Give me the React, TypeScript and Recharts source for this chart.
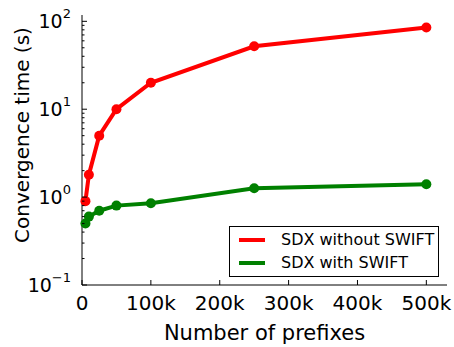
import React from 'react';
import { LineChart, Line, XAxis, YAxis } from 'recharts';

// Number of announced prefixes (x) and measured convergence times in seconds (y)
const prefixes = [5000, 10000, 25000, 50000, 100000, 250000, 500000];
const withoutSwift = [0.9, 1.8, 5.0, 10, 20, 52, 85];
const withSwift = [0.5, 0.6, 0.7, 0.8, 0.85, 1.26, 1.4];

const seriesNames = ['SDX without SWIFT', 'SDX with SWIFT'];
const seriesColors = ['#ff0000', '#008000'];

const xTicks = [0, 100000, 200000, 300000, 400000, 500000];
const yMajor = [0.1, 1, 10, 100];
const yMinor = [0.2, 0.3, 0.4, 0.5, 0.6, 0.7, 0.8, 0.9, 2, 3, 4, 5, 6, 7, 8, 9, 20, 30, 40, 50, 60, 70, 80, 90];
const yTicks = [...yMajor, ...yMinor].sort((a, b) => a - b);

const data = prefixes.map((p, i) => ({
  prefixes: p,
  without: withoutSwift[i],
  with: withSwift[i],
}));

const FONT = '"DejaVu Sans", sans-serif';
const isMajor = (v: number) => yMajor.some((m) => Math.abs(m - v) < 1e-9);
const fmtK = (v: number) => (v === 0 ? '0' : `${v / 1000}k`);

const LeftTick = (props: any) => {
  const { x, y, payload } = props;
  const v = payload.value as number;
  const major = isMajor(v);
  const exp = Math.round(Math.log10(v));
  return (
    <g>
      <line x1={x} x2={x + (major ? 5 : 2.5)} y1={y} y2={y} stroke="#000" strokeWidth={1} />
      {major && (
        <text x={x - 11} y={y} textAnchor="end" dominantBaseline="central" fontFamily={FONT} fontSize={19} fill="#000">
          10
          <tspan fontSize={13} dy={-8}>{exp < 0 ? `\u2212${-exp}` : `${exp}`}</tspan>
        </text>
      )}
    </g>
  );
};

const RightTick = (props: any) => {
  const { x, y, payload } = props;
  const major = isMajor(payload.value as number);
  return <line x1={x} x2={x - (major ? 5 : 2.5)} y1={y} y2={y} stroke="#000" strokeWidth={1} />;
};

const BottomTick = (props: any) => {
  const { x, y, payload } = props;
  return (
    <g>
      <line x1={x} x2={x} y1={y} y2={y - 5} stroke="#000" strokeWidth={1} />
      <text x={x} y={y + 18} textAnchor="middle" dominantBaseline="central" fontFamily={FONT} fontSize={20} fill="#000">
        {fmtK(payload.value)}
      </text>
    </g>
  );
};

const TopTick = (props: any) => {
  const { x, y } = props;
  return <line x1={x} x2={x} y1={y} y2={y + 5} stroke="#000" strokeWidth={1} />;
};

const LegendBox = () => (
  <div
    style={{
      position: 'absolute',
      left: 229,
      top: 226,
      width: 208,
      height: 49,
      border: '1px solid #000',
      background: '#fff',
      fontFamily: FONT,
      fontSize: 16,
    }}
  >
    {seriesNames.map((name, i) => (
      <div key={name} style={{ position: 'absolute', left: 0, top: i === 0 ? 2 : 25, height: 22, width: 208 }}>
        <svg width={40} height={22} style={{ position: 'absolute', left: 0, top: 0 }}>
          <line x1={9} x2={35} y1={11} y2={11} stroke={seriesColors[i]} strokeWidth={4} />
        </svg>
        <span style={{ position: 'absolute', left: 51, top: 1, lineHeight: '20px', whiteSpace: 'nowrap', color: '#000' }}>
          {name}
        </span>
      </div>
    ))}
  </div>
);

export default function App() {
  return (
    <div style={{ position: 'absolute', left: 0, top: 0, width: 454, height: 347, background: '#fff' }}>
      <LineChart width={454} height={347} data={data} margin={{ top: 15, right: 7, bottom: 0, left: 0 }}>
        <XAxis
          xAxisId="bottom"
          dataKey="prefixes"
          type="number"
          domain={[0, 530000]}
          ticks={xTicks}
          interval={0}
          height={62}
          tickSize={0}
          tickMargin={0}
          tickLine={false}
          axisLine={{ stroke: '#000', strokeWidth: 1 }}
          tick={<BottomTick />}
          label={{
            content: (p: any) => (
              <text
                x={p.viewBox.x + p.viewBox.width / 2}
                y={p.viewBox.y + 55}
                textAnchor="middle"
                fontFamily={FONT}
                fontSize={21}
                fill="#000"
              >
                Number of prefixes
              </text>
            ),
          }}
        />
        <XAxis
          xAxisId="top"
          orientation="top"
          dataKey="prefixes"
          type="number"
          domain={[0, 530000]}
          ticks={xTicks}
          interval={0}
          height={0}
          tickSize={0}
          tickMargin={0}
          tickLine={false}
          axisLine={{ stroke: '#000', strokeWidth: 1 }}
          tick={<TopTick />}
        />
        <YAxis
          yAxisId="left"
          scale="log"
          domain={[0.1, 118]}
          allowDataOverflow
          ticks={yTicks}
          interval={0}
          width={82}
          tickSize={0}
          tickMargin={0}
          tickLine={false}
          axisLine={{ stroke: '#000', strokeWidth: 1 }}
          tick={<LeftTick />}
          label={{
            content: () => (
              <text
                x={22}
                y={135}
                transform={`rotate(-90 22 135)`}
                textAnchor="middle"
                dominantBaseline="central"
                fontFamily={FONT}
                fontSize={20}
                fill="#000"
              >
                Convergence time (s)
              </text>
            ),
          }}
        />
        <YAxis
          yAxisId="right"
          orientation="right"
          scale="log"
          domain={[0.1, 118]}
          allowDataOverflow
          ticks={yTicks}
          interval={0}
          width={0}
          tickSize={0}
          tickMargin={0}
          tickLine={false}
          axisLine={{ stroke: '#000', strokeWidth: 1 }}
          tick={<RightTick />}
        />
        <Line
          xAxisId="bottom"
          yAxisId="left"
          dataKey="without"
          name={seriesNames[0]}
          stroke={seriesColors[0]}
          strokeWidth={4}
          dot={{ r: 5, fill: seriesColors[0], stroke: seriesColors[0], strokeWidth: 0 }}
          isAnimationActive={false}
        />
        <Line
          xAxisId="bottom"
          yAxisId="left"
          dataKey="with"
          name={seriesNames[1]}
          stroke={seriesColors[1]}
          strokeWidth={4}
          dot={{ r: 5, fill: seriesColors[1], stroke: seriesColors[1], strokeWidth: 0 }}
          isAnimationActive={false}
        />
      </LineChart>
      <LegendBox />
    </div>
  );
}
